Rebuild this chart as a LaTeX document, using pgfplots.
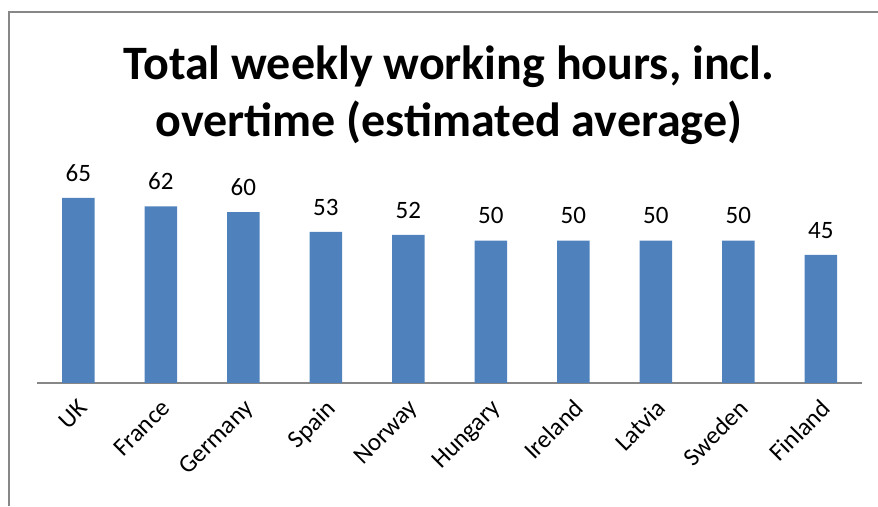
\documentclass[border=0pt]{standalone}
\usepackage{pgfplots}
\pgfplotsset{compat=1.18}
\usepackage{fontspec}
\setmainfont{Carlito}
\definecolor{barblue}{HTML}{4F81BD}
\definecolor{framegray}{HTML}{878787}
\begin{document}
\begin{tikzpicture}
  % page = 878 x 506, y measured from bottom
  \path[use as bounding box] (0pt,0pt) rectangle (878pt,506pt);
  \draw[framegray, line width=2pt] (8.5pt,0pt) -- (8.5pt,494pt) -- (878pt,494pt);
  \node[font=\bfseries\fontsize{48}{57}\selectfont, align=center] at (449pt,411pt)
    {Total weekly working hours, incl.\\overtime (estimated average)};
  \begin{axis}[
      at={(37pt,123pt)}, anchor=south west,
      scale only axis,
      width=825pt, height=199.5pt,
      xmin=-0.5, xmax=9.5,
      ymin=0, ymax=70,
      axis x line=bottom,
      axis y line=none,
      axis line style={draw=framegray, line width=1.5pt, -},
      xtick=data,
      xticklabels={UK,France,Germany,Spain,Norway,Hungary,Ireland,Latvia,Sweden,Finland},
      xtick style={draw=none},
      x tick label style={rotate=45, anchor=north east, font=\fontsize{25}{29}\selectfont, inner sep=1pt, xshift=-7pt, yshift=-6pt},
      ybar, bar width=32.5pt,
      nodes near coords,
      /pgf/number format/assume math mode=true,
      every node near coord/.append style={font=\fontsize{25}{29}\selectfont, black, yshift=13pt},
      clip=false,
    ]
    \addplot[fill=barblue, draw=none] coordinates {
      (0,65) (1,62) (2,60) (3,53) (4,52) (5,50) (6,50) (7,50) (8,50) (9,45)
    };
  \end{axis}
\end{tikzpicture}
\end{document}
